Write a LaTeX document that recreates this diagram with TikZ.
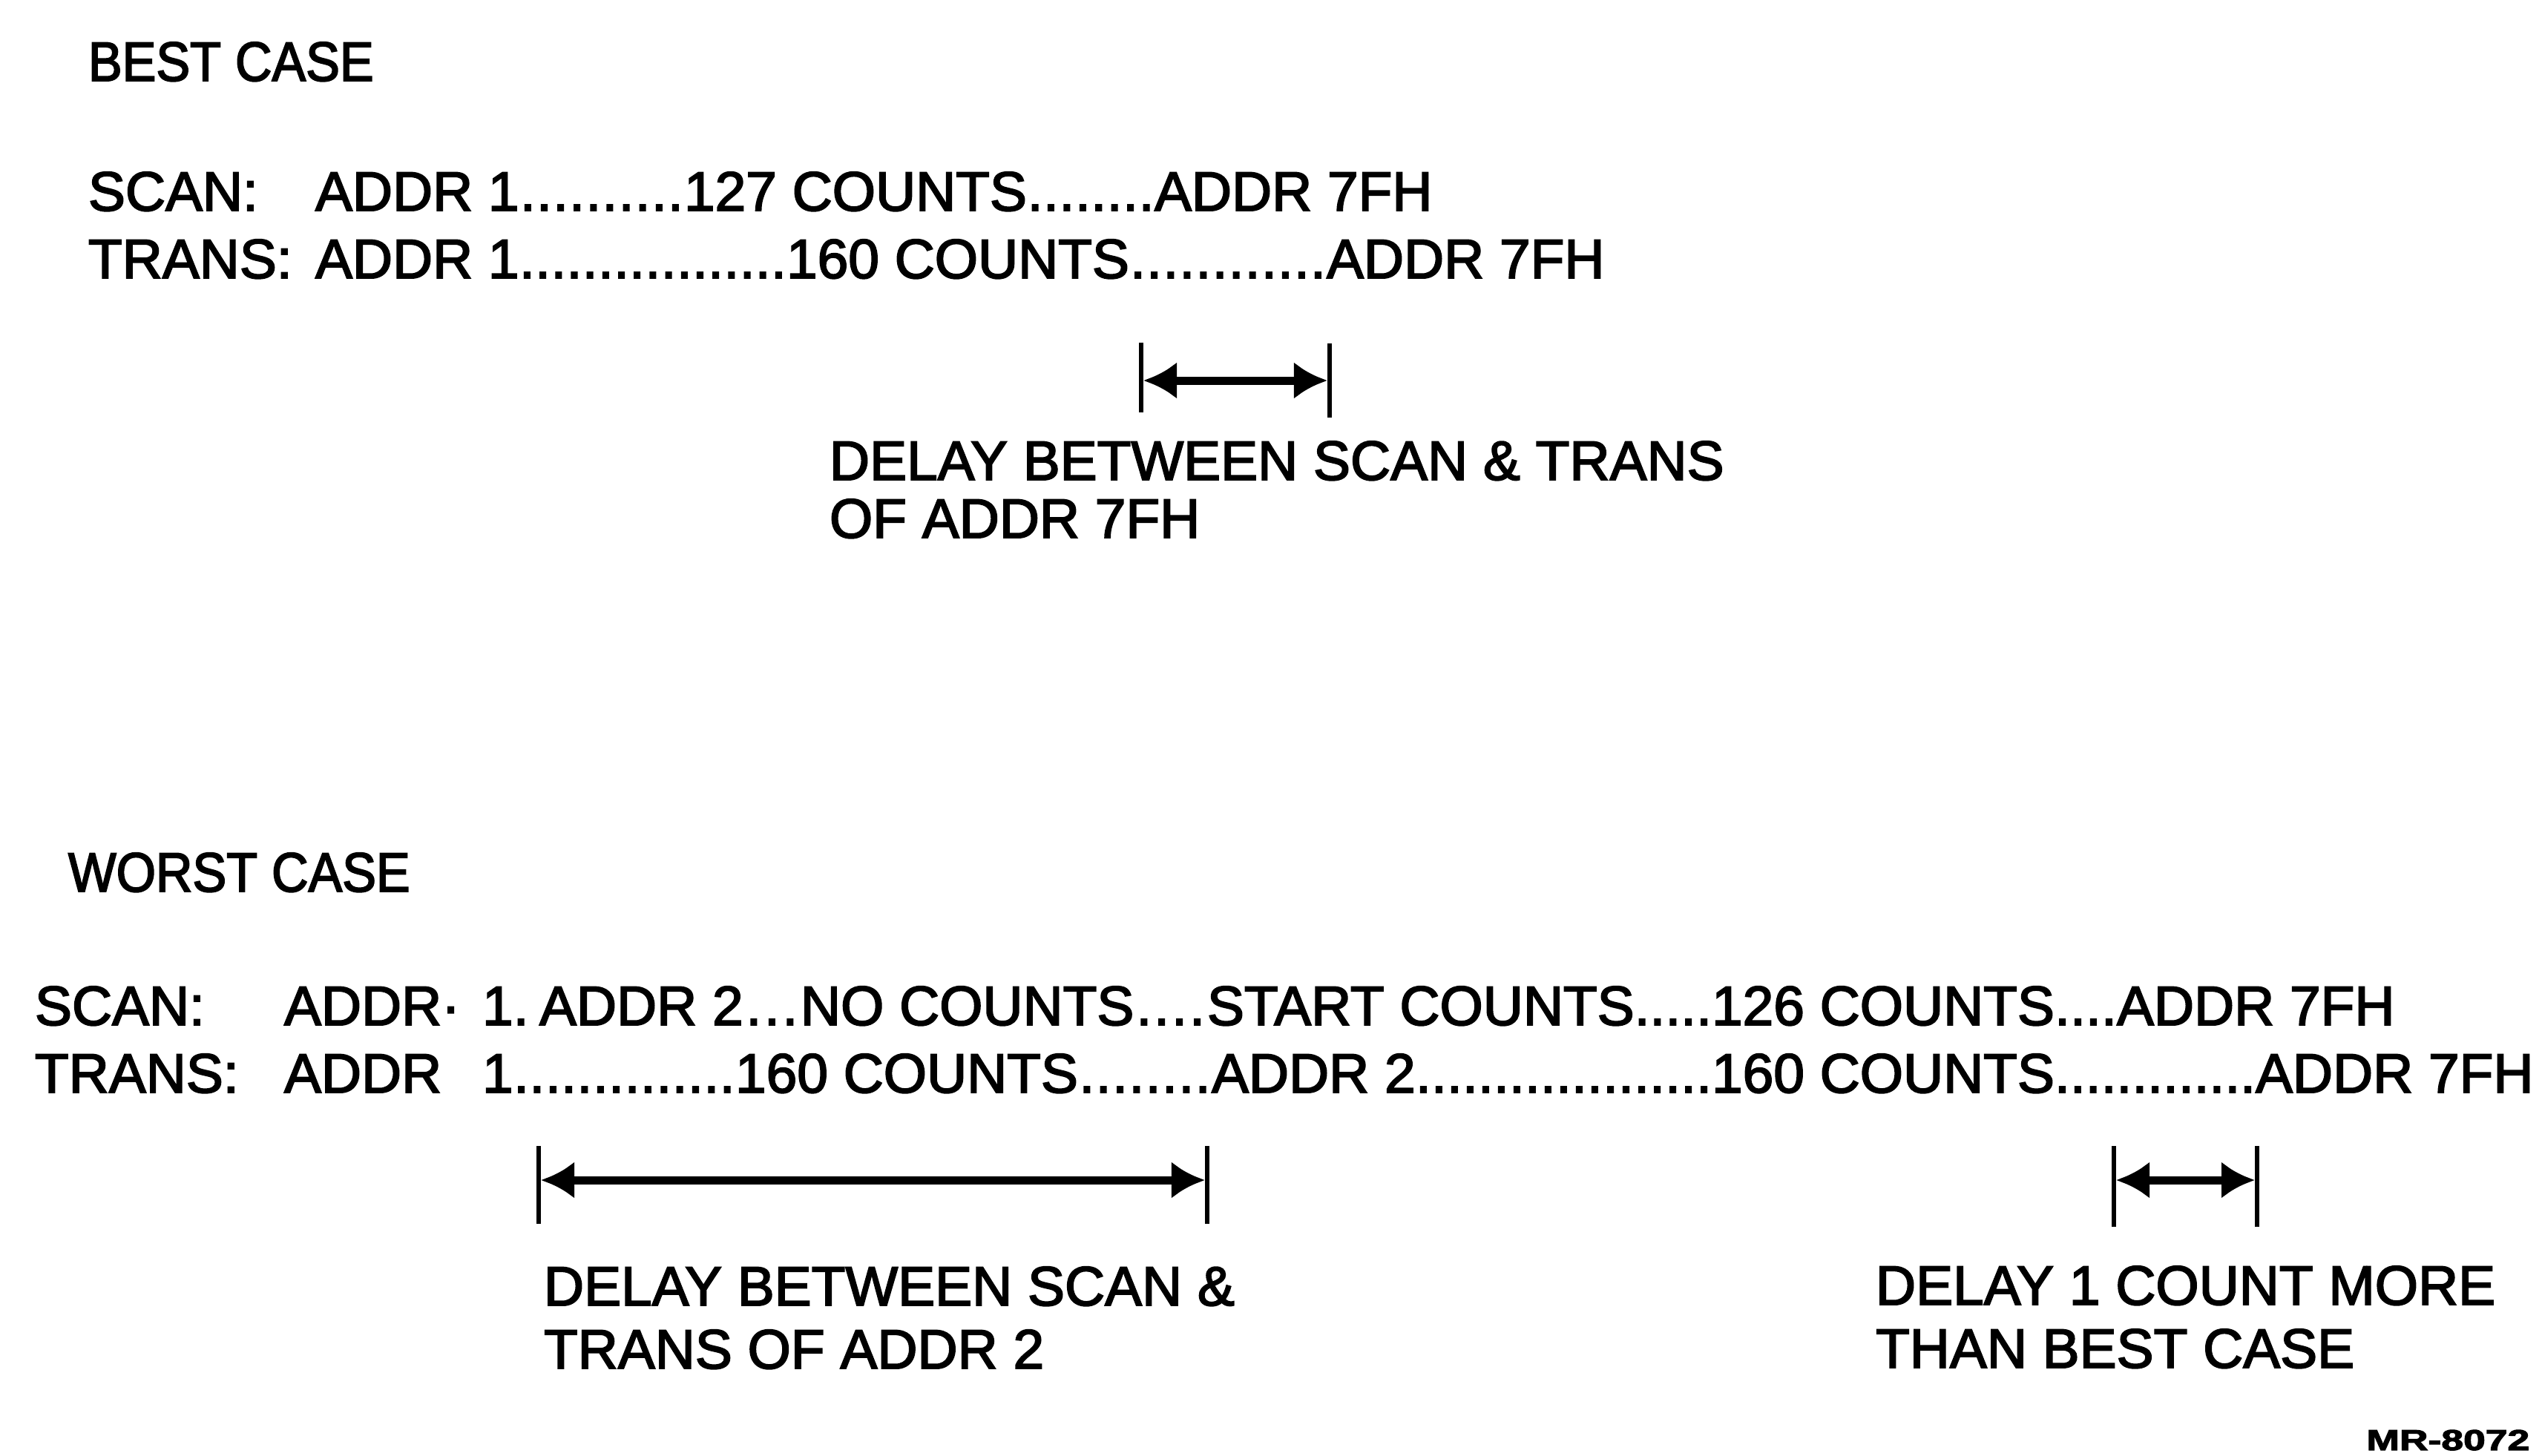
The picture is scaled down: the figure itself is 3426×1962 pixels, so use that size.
\documentclass[tikz,border=0pt]{standalone}
\usepackage{fontspec}
\usepackage{graphicx}
\setmainfont{Liberation Sans}[FakeBold=2.5]
\newfontfamily\narrowfont{Liberation Sans}[FakeStretch=0.915,FakeBold=2.5]
\usetikzlibrary{calc,arrows.meta}
\newcommand\mainsize{\fontsize{21.3pt}{25pt}\selectfont}
% dot leaders between two text nodes: #1 name, #2 from node, #3 to node
\newcommand\dotsbetween[3]{%
  \path let \p1=(#2.base east), \p2=(#3.base west) in
    node[txt] (#1) at (\x1,\y1)
      {\hbox to \dimexpr\x2-\x1\relax{\xleaders\hbox to 0.208cm{\hss.\hss}\hfill}};}
\begin{document}
\begin{tikzpicture}[x=0.01cm,y=-0.01cm,
  txt/.style={font=\mainsize, inner sep=0pt, outer sep=0pt, anchor=base west},
  heading/.style={txt, font=\narrowfont\mainsize},
  tick/.style={line width=0.06cm},
  dimline/.style={line width=0.11cm,
    {Latex[length=0.45cm,width=0.5cm]}-{Latex[length=0.45cm,width=0.5cm]},
    shorten <=0.03cm, shorten >=0.03cm}]
\fill[white] (0,0) rectangle (3426,1962);
\useasboundingbox (0,0) rectangle (3426,1962);

% ---------------- BEST CASE ----------------
\node[heading] (bc) at (119,109) {BEST CASE};

\node[txt] (bs1) at (119,284) {SCAN:};
\node[txt] (bs2) at (425,284) {ADDR 1};
\node[txt] (bs3) at (922,284) {127 COUNTS};
\node[txt] (bs4) at (1556,284) {ADDR 7FH};
\dotsbetween{bsd1}{bs2}{bs3}
\dotsbetween{bsd2}{bs3}{bs4}

\node[txt] (bt1) at (119,375) {TRANS:};
\node[txt] (bt2) at (425,375) {ADDR 1};
\node[txt] (bt3) at (1060,375) {160 COUNTS};
\node[txt] (bt4) at (1788,375) {ADDR 7FH};
\dotsbetween{btd1}{bt2}{bt3}
\dotsbetween{btd2}{bt3}{bt4}

\coordinate (b1l) at (1538,513);
\coordinate (b1r) at (1792,513);
\draw[tick] (1538,462) -- (b1l) -- (1538,556);
\draw[tick] (1792,463) -- (b1r) -- (1792,563);
\draw[dimline] (b1l) -- (b1r);

\node[txt] (bl1) at (1118,647) {DELAY BETWEEN SCAN \& TRANS};
\node[txt] (bl2) at (1118,725) {OF ADDR 7FH};

% ---------------- WORST CASE ----------------
\node[heading] (wc) at (92,1202) {WORST CASE};

\node[txt] (ws1) at (47,1382) {SCAN:};
\node[txt] (ws2) at (383,1382) {ADDR·};
\node[txt] (ws3) at (650,1382) {1.};
\node[txt] (ws4) at (727,1382) {ADDR 2};
\node[txt] (ws5) at (1079,1382) {NO COUNTS};
\node[txt] (ws6) at (1627,1382) {START COUNTS};
\node[txt] (ws7) at (2307,1382) {126 COUNTS};
\node[txt] (ws8) at (2853,1382) {ADDR 7FH};
\dotsbetween{wsd1}{ws4}{ws5}
\dotsbetween{wsd2}{ws5}{ws6}
\dotsbetween{wsd3}{ws6}{ws7}
\dotsbetween{wsd4}{ws7}{ws8}

\node[txt] (wt1) at (47,1473) {TRANS:};
\node[txt] (wt2) at (383,1473) {ADDR};
\node[txt] (wt3) at (650,1473) {1};
\node[txt] (wt4) at (991,1473) {160 COUNTS};
\node[txt] (wt5) at (1633,1473) {ADDR 2};
\node[txt] (wt6) at (2307,1473) {160 COUNTS};
\node[txt] (wt7) at (3040,1473) {ADDR 7FH};
\dotsbetween{wtd1}{wt3}{wt4}
\dotsbetween{wtd2}{wt4}{wt5}
\dotsbetween{wtd3}{wt5}{wt6}
\dotsbetween{wtd4}{wt6}{wt7}

\coordinate (w1l) at (726,1591);
\coordinate (w1r) at (1627,1591);
\draw[tick] (726,1545) -- (w1l) -- (726,1650);
\draw[tick] (1627,1545) -- (w1r) -- (1627,1650);
\draw[dimline] (w1l) -- (w1r);

\coordinate (w2l) at (2849,1591);
\coordinate (w2r) at (3042,1591);
\draw[tick] (2849,1545) -- (w2l) -- (2849,1654);
\draw[tick] (3042,1545) -- (w2r) -- (3042,1654);
\draw[dimline] (w2l) -- (w2r);

\node[txt] (wl1) at (733,1760) {DELAY BETWEEN SCAN \&};
\node[txt] (wl2) at (733,1845) {TRANS OF ADDR 2};
\node[txt] (wr1) at (2528,1759) {DELAY 1 COUNT MORE};
\node[txt] (wr2) at (2528,1844) {THAN BEST CASE};

\node[inner sep=0pt, anchor=base east, font=\bfseries\fontsize{11.1pt}{13pt}\selectfont]
  (mr) at (3410,1955) {\scalebox{1.37}[1]{MR-8072}};
\end{tikzpicture}
\end{document}
